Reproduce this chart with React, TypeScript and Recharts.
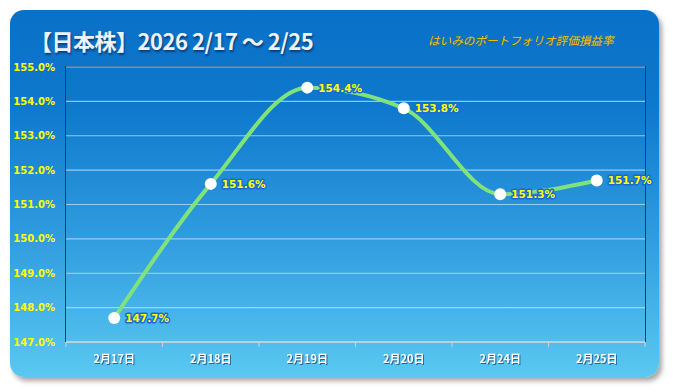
import { LineChart, Line, XAxis, YAxis, CartesianGrid, LabelList } from "recharts"

const categories = ["2月17日", "2月18日", "2月19日", "2月20日", "2月24日", "2月25日"]
const values = [147.7, 151.6, 154.4, 153.8, 151.3, 151.7]
const yTicks = [147, 148, 149, 150, 151, 152, 153, 154, 155]

const title = "【日本株】2026 2/17 〜 2/25"
const subtitle = "はいみのポートフォリオ評価損益率"

const data = categories.map((day, i) => ({ day, value: values[i] }))

// plot area box
const PLOT = { left: 66, top: 67, width: 579, height: 275 }
const BAND = PLOT.width / categories.length

const XTick = (props: any) => {
  const { x, y, payload, index } = props
  const last = index === categories.length - 1
  return (
    <g>
      <line x1={x - BAND / 2} x2={x - BAND / 2} y1={y - 8} y2={y - 3} stroke="#c8d4dc" strokeWidth={1} />
      {last && <line x1={x + BAND / 2} x2={x + BAND / 2} y1={y - 8} y2={y - 3} stroke="#c8d4dc" strokeWidth={1} />}
      <text x={x} y={y + 13} textAnchor="middle" fill="#ffffff" fontSize={11} fontWeight={700}
        fontFamily="'Noto Sans CJK JP', sans-serif" style={{ filter: "drop-shadow(1px 1px 0.5px rgba(0,40,90,0.6))" }}>
        {payload.value}
      </text>
    </g>
  )
}

const PointLabel = (props: any) => {
  const { x, y, value } = props
  return (
    <text x={x + 11} y={y + 4} fill="#ffff00" fontSize={10.5} fontWeight={700} fontFamily="'DejaVu Sans', sans-serif"
      stroke="#1a6ad0" strokeWidth={3} paintOrder="stroke" strokeLinejoin="round">
      {value.toFixed(1)}%
    </text>
  )
}

export default function App() {
  return (
    <div style={{ position: "absolute", left: 0, top: 0, width: 674, height: 392, background: "#fff" }}>
      <div style={{
        position: "absolute", left: 10, top: 10, width: 649, height: 367, borderRadius: 14,
        background: "linear-gradient(180deg, #0a70c8 0%, #0d78cc 25%, #2e9ade 60%, #5ac8f1 100%)",
        boxShadow: "3px 4px 5px rgba(0,0,0,0.35)"
      }} />
      <div style={{
        position: "absolute", left: 30, top: 25, fontSize: 22, fontWeight: 700, color: "#eef2f8",
        fontFamily: "'Noto Sans CJK JP', sans-serif", lineHeight: "30px", whiteSpace: "nowrap",
        letterSpacing: -0.5, textShadow: "1px 2px 2px rgba(0,30,70,0.6)"
      }}>{title}</div>
      <div style={{
        position: "absolute", left: 428, top: 32, fontSize: 11.6, fontStyle: "italic", color: "#f2c200",
        fontFamily: "'Noto Sans CJK JP', sans-serif", lineHeight: "16px", whiteSpace: "nowrap",
        textShadow: "0px 1px 1px rgba(120,90,0,0.4)"
      }}>{subtitle}</div>
      {/* dark frame round the plot area */}
      <div style={{
        position: "absolute", left: PLOT.left - 1, top: PLOT.top - 1, width: PLOT.width, height: PLOT.height,
        borderLeft: "1.5px solid #0b3f78", borderTop: "1.5px solid #0b3f78", borderRight: "1.5px solid #0b3f78"
      }} />
      <div style={{ position: "absolute", left: 0, top: 0 }}>
        <LineChart width={674} height={392} data={data} margin={{ top: PLOT.top, right: 674 - PLOT.left - PLOT.width, bottom: 0, left: 6 }}>
          <CartesianGrid vertical={false} stroke="rgba(190,225,245,0.75)" strokeWidth={1.2} />
          <XAxis dataKey="day" axisLine={{ stroke: "#c8d4dc", strokeWidth: 1.5 }} tickLine={false}
            interval={0} tick={<XTick />} height={392 - PLOT.top - PLOT.height} padding={{ left: BAND / 2, right: BAND / 2 }} />
          <YAxis domain={[147, 155]} ticks={yTicks} width={60} axisLine={false}
            tickLine={false} tickFormatter={(v: number) => v.toFixed(1) + "%"} dx={-3}
            tick={{ fill: "#ffff00", fontSize: 10, fontWeight: 700, fontFamily: "'DejaVu Sans', sans-serif" }} />
          <Line type="monotone" dataKey="value" stroke="#80e27a" strokeWidth={4}
            dot={{ r: 6, fill: "#ffffff", stroke: "none" }} activeDot={false} isAnimationActive={false}>
            <LabelList dataKey="value" content={<PointLabel />} />
          </Line>
        </LineChart>
      </div>
    </div>
  )
}
